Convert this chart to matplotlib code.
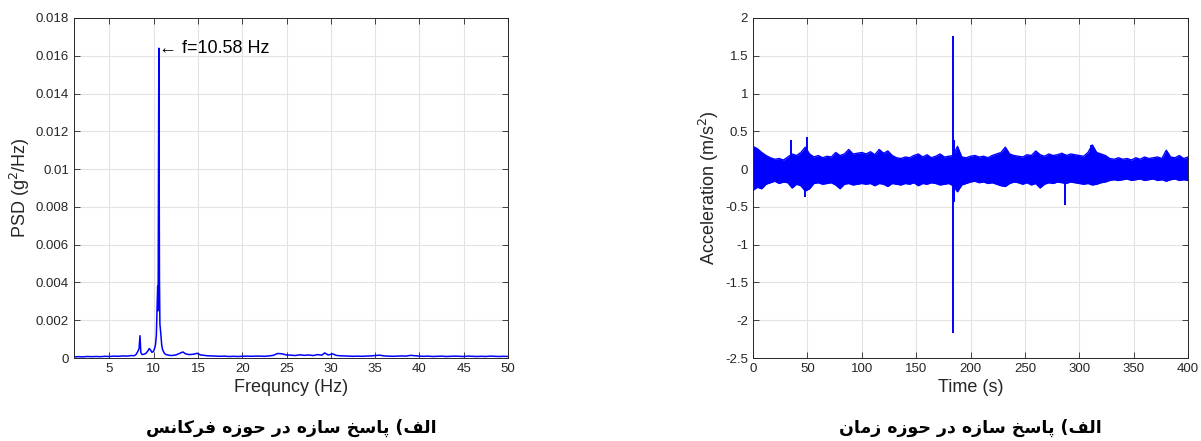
import matplotlib
matplotlib.use('Agg')
import matplotlib.pyplot as plt
from matplotlib.ticker import FormatStrFormatter

plt.rcParams['font.family'] = ['Liberation Sans', 'DejaVu Sans']

# PSD of the structure response
freq = [1.0, 1.5, 2.0, 2.5, 3.0, 3.5, 4.0, 4.5, 5.0, 5.5, 6.0, 6.5, 7.0, 7.5, 7.8,
        8.0, 8.2, 8.35, 8.45, 8.55, 8.7, 8.9, 9.1, 9.3, 9.5, 9.65, 9.8, 9.95,
        10.1, 10.2, 10.3, 10.4, 10.45, 10.5, 10.58, 10.65, 10.7, 10.8, 10.9, 11.0,
        11.2, 11.4, 11.7, 12.0, 12.5, 13.0, 13.3, 13.6, 14.0, 14.5, 14.9, 15.3,
        15.7, 16.0, 16.5, 17.0, 17.5, 18.0, 18.5, 19.0, 19.5, 20.0, 20.5, 21.0,
        21.5, 22.0, 22.5, 23.0, 23.5, 24.0, 24.5, 25.0, 25.5, 26.0, 26.5, 27.0,
        27.5, 28.0, 28.5, 29.0, 29.3, 29.7, 30.2, 30.6, 31.0, 31.5, 32.0, 32.5,
        33.0, 33.5, 34.0, 34.5, 35.0, 35.5, 36.0, 36.5, 37.0, 37.5, 38.0, 38.5,
        39.0, 39.5, 40.0, 40.5, 41.0, 41.5, 42.0, 42.5, 43.0, 43.5, 44.0, 44.5,
        45.0, 45.5, 46.0, 46.5, 47.0, 47.5, 48.0, 48.5, 49.0, 49.5, 50.0]
psd = [0.00006, 0.00007, 0.00006, 0.00008, 0.00007, 0.00008, 0.00007, 0.00009,
       0.00008, 0.0001, 0.00009, 0.00011, 0.0001, 0.00013, 0.00012,
       0.00018, 0.00034, 0.0005, 0.00118, 0.00028, 0.00018, 0.0002, 0.00024,
       0.00035, 0.0005, 0.00042, 0.0003, 0.00034,
       0.0005, 0.0007, 0.0012, 0.0030, 0.0038, 0.0025, 0.0164, 0.0042, 0.0018,
       0.0013, 0.0007, 0.00045,
       0.00025, 0.00018, 0.00015, 0.00013, 0.00016, 0.00026, 0.00032, 0.00022,
       0.00018, 0.0002, 0.00025, 0.00016,
       0.00014, 0.00012, 0.00011, 0.0001, 0.00009, 0.0001, 0.00008, 0.00009,
       0.00008, 0.00009, 0.0001, 0.00009,
       0.0001, 0.0001, 0.00009, 0.00011, 0.00014, 0.00024, 0.00022, 0.00016,
       0.00015, 0.00013, 0.00017, 0.00014,
       0.00016, 0.00013, 0.00018, 0.00015, 0.00027, 0.00016, 0.00022, 0.00014,
       0.00012, 0.00011, 0.0001, 0.00009,
       0.0001, 0.00009, 0.0001, 0.00011, 0.00013, 0.00015, 0.00011, 0.0001,
       0.00009, 0.0001, 0.00011, 0.0001,
       0.00014, 0.00012, 0.0001, 0.00009, 0.0001, 0.00008, 0.00009, 0.0001,
       0.00008, 0.00009, 0.0001, 0.00009,
       0.00008, 0.0001, 0.00009, 0.00008, 0.00009, 0.00008, 0.0001, 0.00009,
       0.00008, 0.00009, 0.00008]
peak_freq = 10.58
peak_psd = 0.0164

# Acceleration record: upper / lower envelope every 4 s
t_env = list(range(0, 401, 4))
acc_upper = [0.30, 0.27, 0.22, 0.18, 0.15, 0.13, 0.14, 0.12, 0.16, 0.20, 0.18, 0.22, 0.29,
             0.20, 0.16, 0.18, 0.15, 0.17, 0.16, 0.22, 0.18, 0.20, 0.26, 0.20, 0.21, 0.22,
             0.20, 0.23, 0.19, 0.26, 0.21, 0.24, 0.18, 0.15, 0.14, 0.16, 0.15, 0.18, 0.20,
             0.16, 0.19, 0.15, 0.17, 0.20, 0.16, 0.17, 0.18, 0.30, 0.16, 0.15, 0.17,
             0.18, 0.16, 0.17, 0.15, 0.18, 0.20, 0.22, 0.29, 0.20, 0.18, 0.17, 0.16, 0.19,
             0.18, 0.24, 0.19, 0.17, 0.20, 0.18, 0.19, 0.21, 0.18, 0.20, 0.19, 0.18,
             0.17, 0.22, 0.32, 0.22, 0.20, 0.18, 0.14, 0.13, 0.15, 0.13, 0.14, 0.12, 0.15,
             0.13, 0.16, 0.14, 0.15, 0.16, 0.14, 0.25, 0.16, 0.15, 0.18, 0.14, 0.16]
acc_lower = [-0.28, -0.24, -0.26, -0.20, -0.18, -0.16, -0.19, -0.17, -0.18, -0.25, -0.20,
             -0.22, -0.29, -0.26, -0.19, -0.18, -0.20, -0.19, -0.18, -0.21, -0.26, -0.20,
             -0.19, -0.21, -0.20, -0.19,
             -0.20, -0.19, -0.22, -0.19, -0.20, -0.23, -0.19, -0.20, -0.21, -0.19, -0.20,
             -0.18, -0.22, -0.19, -0.20, -0.18, -0.19, -0.21, -0.20, -0.19, -0.22, -0.30,
             -0.21, -0.19, -0.17,
             -0.16, -0.18, -0.17, -0.19, -0.18, -0.20, -0.22, -0.23, -0.19, -0.17, -0.18,
             -0.20, -0.18, -0.21, -0.19, -0.25, -0.20, -0.18, -0.19, -0.17, -0.18, -0.19,
             -0.17, -0.18, -0.19,
             -0.20, -0.19, -0.21, -0.20, -0.18, -0.17, -0.15, -0.14, -0.15, -0.14, -0.13,
             -0.15, -0.14, -0.13, -0.15, -0.14, -0.13, -0.15, -0.14, -0.16, -0.14, -0.13,
             -0.15, -0.14, -0.15]

# isolated spikes in the record
spike_t = [35.2, 47.5, 50.0, 184.2, 184.6, 286.6, 310.8]
spike_hi = [0.38, 0.20, 0.43, 1.76, 0.39, 0.20, 0.32]
spike_lo = [-0.20, -0.37, -0.20, -2.17, -0.43, -0.47, -0.20]

# Persian captions, written in presentation forms and visual order
# (matplotlib does no Arabic shaping or bidi)
w_alef = '\uFED2\uFEDF\uFE8D'
w_pasokh = '\uFEA6\uFEB3\uFE8E\uFB58'
w_sazeh = '\uFEE9\uFEAF\uFE8E\uFEB3'
w_dar = '\uFEAD\uFEA9'
w_hozeh = '\uFEE9\uFEAF\uFEEE\uFEA3'
w_ferekans = '\uFEB2\uFEE7\uFE8E\uFB90\uFEAE\uFED3'
w_zaman = '\uFEE5\uFE8E\uFEE3\uFEAF'
caption_freq = ' '.join([w_ferekans, w_hozeh, w_dar, w_sazeh, w_pasokh, '(' + w_alef])
caption_time = ' '.join([w_zaman, w_hozeh, w_dar, w_sazeh, w_pasokh, '(' + w_alef])

blue = '#0000ff'
grid_c = '#e3e3e3'
txt_c = '#262626'

fig = plt.figure(figsize=(12.01, 4.41), dpi=100)
ax1 = fig.add_axes([0.0616, 0.1882, 0.3614, 0.771])
ax2 = fig.add_axes([0.627, 0.1882, 0.3622, 0.771])

for ax in (ax1, ax2):
    ax.grid(True, color=grid_c, linewidth=0.8)
    ax.set_axisbelow(True)
    ax.tick_params(direction='in', top=True, right=True, length=4,
                   labelsize=9.5, colors=txt_c, width=0.6)
    for s in ax.spines.values():
        s.set_color(txt_c)
        s.set_linewidth(0.7)

# frequency domain
ax1.plot(freq, psd, color=blue, lw=1.1)
ax1.text(peak_freq, peak_psd, '\u2190 f=%.2f Hz' % peak_freq, ha='left', va='center',
         fontsize=13, color='black')
ax1.set_xlim(1, 50)
ax1.set_ylim(0, 0.018)
ax1.set_xticks(range(5, 51, 5))
ax1.set_yticks([i * 0.002 for i in range(10)])
ax1.yaxis.set_major_formatter(FormatStrFormatter('%g'))
ax1.set_xlabel('Frequncy (Hz)', fontsize=13, color=txt_c, labelpad=3)
ax1.set_ylabel('PSD (g$^2$/Hz)', fontsize=13, color=txt_c, labelpad=3)

# time domain: filled envelope plus the isolated spikes
ax2.fill_between(t_env, acc_lower, acc_upper, color=blue, lw=0)
ax2.plot(t_env, acc_upper, color=blue, lw=1.0)
ax2.plot(t_env, acc_lower, color=blue, lw=1.0)
ax2.vlines(spike_t, spike_lo, spike_hi, color=blue, lw=1.4)
ax2.set_xlim(0, 400)
ax2.set_ylim(-2.5, 2)
ax2.set_xticks(range(0, 401, 50))
ax2.set_yticks([-2.5, -2, -1.5, -1, -0.5, 0, 0.5, 1, 1.5, 2])
ax2.yaxis.set_major_formatter(FormatStrFormatter('%g'))
ax2.set_xlabel('Time (s)', fontsize=13, color=txt_c, labelpad=3)
ax2.set_ylabel('Acceleration (m/s$^2$)', fontsize=13, color=txt_c, labelpad=3)

fig.text(0.2423, 0.008, caption_freq, ha='center', va='bottom', fontsize=12.5,
         fontweight='bold', family=['DejaVu Sans'])
fig.text(0.8081, 0.008, caption_time, ha='center', va='bottom', fontsize=12.5,
         fontweight='bold', family=['DejaVu Sans'])

fig.savefig('out.png', dpi=100)
